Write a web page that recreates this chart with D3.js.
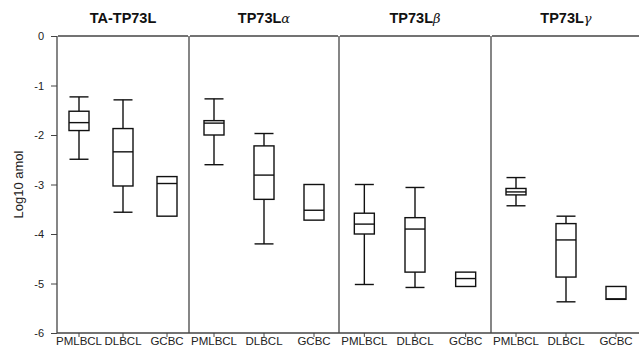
<!DOCTYPE html>
<html>
<head>
<meta charset="utf-8">
<script src="https://cdn.jsdelivr.net/npm/d3@7"></script>
<style>
  html, body { margin: 0; padding: 0; background: #fff; }
  svg { display: block; font-family: "Liberation Sans", Arial, sans-serif; }
</style>
</head>
<body>
<svg id="chart" width="639" height="357"></svg>
<script>
// ---- data ----
const panelNames = ["TA-TP73L", "TP73L", "TP73L", "TP73L"];
const panelGreek = ["", "α", "β", "γ"];
const groups = ["PMLBCL", "DLBCL", "GCBC"];
const yTicks = [0, -1, -2, -3, -4, -5, -6];

// per panel: [PMLBCL, DLBCL, GCBC]; null = no whisker drawn
const whiskerHigh = [[-1.23, -1.29, null], [-1.27, -1.97, null], [-3.0, -3.06, null], [-2.86, -3.64, null]];
const q3 =          [[-1.52, -1.87, -2.84], [-1.71, -2.22, -3.0], [-3.58, -3.67, -4.77], [-3.08, -3.79, -5.06]];
const median =      [[-1.75, -2.34, -2.98], [-1.76, -2.81, -3.52], [-3.80, -3.90, -4.90], [-3.15, -4.12, -5.31]];
const q1 =          [[-1.91, -3.03, -3.64], [-2.0, -3.30, -3.72], [-4.0, -4.77, -5.06], [-3.21, -4.87, -5.32]];
const whiskerLow =  [[-2.49, -3.56, null], [-2.60, -4.20, null], [-5.02, -5.08, null], [-3.43, -5.37, null]];

// ---- layout ----
const svg = d3.select("#chart");
const plotTop = 36, plotBottom = 333;
const panelEdges = [57, 189, 339, 491, 641];
const axisColor = "#444";

const y = d3.scaleLinear().domain([0, -6]).range([plotTop, plotBottom]);

// y axis (plain hyphen minus, as in the figure)
const yAxis = svg.append("g").attr("transform", `translate(${panelEdges[0]},0)`)
  .call(d3.axisLeft(y).tickValues(yTicks).tickSize(6).tickPadding(7).tickFormat((d) => String(d)));
yAxis.select(".domain").remove();
yAxis.selectAll("line").attr("stroke", axisColor);
yAxis.selectAll("text").attr("font-size", 11).attr("fill", "#222")
  .attr("font-family", "Liberation Sans, Arial, sans-serif");

svg.append("text")
  .attr("transform", `translate(23,${(plotTop + plotBottom) / 2}) rotate(-90)`)
  .attr("text-anchor", "middle").attr("font-size", 13).attr("fill", "#222")
  .text("Log10 amol");

panelNames.forEach((name, p) => {
  const x0 = panelEdges[p], x1 = panelEdges[p + 1];
  const x = d3.scaleLinear().domain([0, 6]).range([x0, x1]);
  const pos = [1, 3, 5];
  const g = svg.append("g");

  // frame: top, left, bottom
  g.append("line").attr("x1", x0 + 1).attr("x2", x1 - 1).attr("y1", plotTop).attr("y2", plotTop)
    .attr("stroke", axisColor).attr("stroke-width", 1.3);
  g.append("line").attr("x1", x0).attr("x2", x0).attr("y1", plotTop).attr("y2", plotBottom)
    .attr("stroke", axisColor).attr("stroke-width", 1.3);
  g.append("line").attr("x1", x0).attr("x2", x1).attr("y1", plotBottom).attr("y2", plotBottom)
    .attr("stroke", axisColor).attr("stroke-width", 1.3);

  // x ticks + labels
  groups.forEach((grp, i) => {
    g.append("line").attr("x1", x(pos[i])).attr("x2", x(pos[i]))
      .attr("y1", plotBottom).attr("y2", plotBottom + 4).attr("stroke", axisColor);
    g.append("text").attr("x", x(pos[i])).attr("y", plotBottom + 12)
      .attr("text-anchor", "middle").attr("font-size", 11.5).attr("fill", "#222")
      .text(grp);
  });

  // title
  const t = g.append("text").attr("x", (x0 + x1) / 2).attr("y", 23)
    .attr("text-anchor", "middle").attr("font-size", 14.5).attr("font-weight", "bold")
    .attr("fill", "#111").text(name);
  if (panelGreek[p]) {
    t.append("tspan").attr("font-style", "italic").attr("font-weight", "normal")
      .attr("font-family", "DejaVu Serif, serif").attr("font-size", 13).text(panelGreek[p]);
  }

  // boxes
  const halfW = 10, capW = 9.5;
  groups.forEach((grp, i) => {
    const cx = x(pos[i]);
    const hi = whiskerHigh[p][i], lo = whiskerLow[p][i];
    if (hi !== null) {
      g.append("line").attr("x1", cx).attr("x2", cx).attr("y1", y(hi)).attr("y2", y(q3[p][i]))
        .attr("stroke", "#111").attr("stroke-width", 1.4);
      g.append("line").attr("x1", cx - capW).attr("x2", cx + capW).attr("y1", y(hi)).attr("y2", y(hi))
        .attr("stroke", "#111").attr("stroke-width", 1.4);
    }
    if (lo !== null) {
      g.append("line").attr("x1", cx).attr("x2", cx).attr("y1", y(q1[p][i])).attr("y2", y(lo))
        .attr("stroke", "#111").attr("stroke-width", 1.4);
      g.append("line").attr("x1", cx - capW).attr("x2", cx + capW).attr("y1", y(lo)).attr("y2", y(lo))
        .attr("stroke", "#111").attr("stroke-width", 1.4);
    }
    g.append("rect").attr("x", cx - halfW).attr("width", halfW * 2)
      .attr("y", y(q3[p][i])).attr("height", y(q1[p][i]) - y(q3[p][i]))
      .attr("fill", "#fff").attr("stroke", "#111").attr("stroke-width", 1.4);
    g.append("line").attr("x1", cx - halfW).attr("x2", cx + halfW)
      .attr("y1", y(median[p][i])).attr("y2", y(median[p][i]))
      .attr("stroke", "#111").attr("stroke-width", 1.4);
  });
});
</script>
</body>
</html>
